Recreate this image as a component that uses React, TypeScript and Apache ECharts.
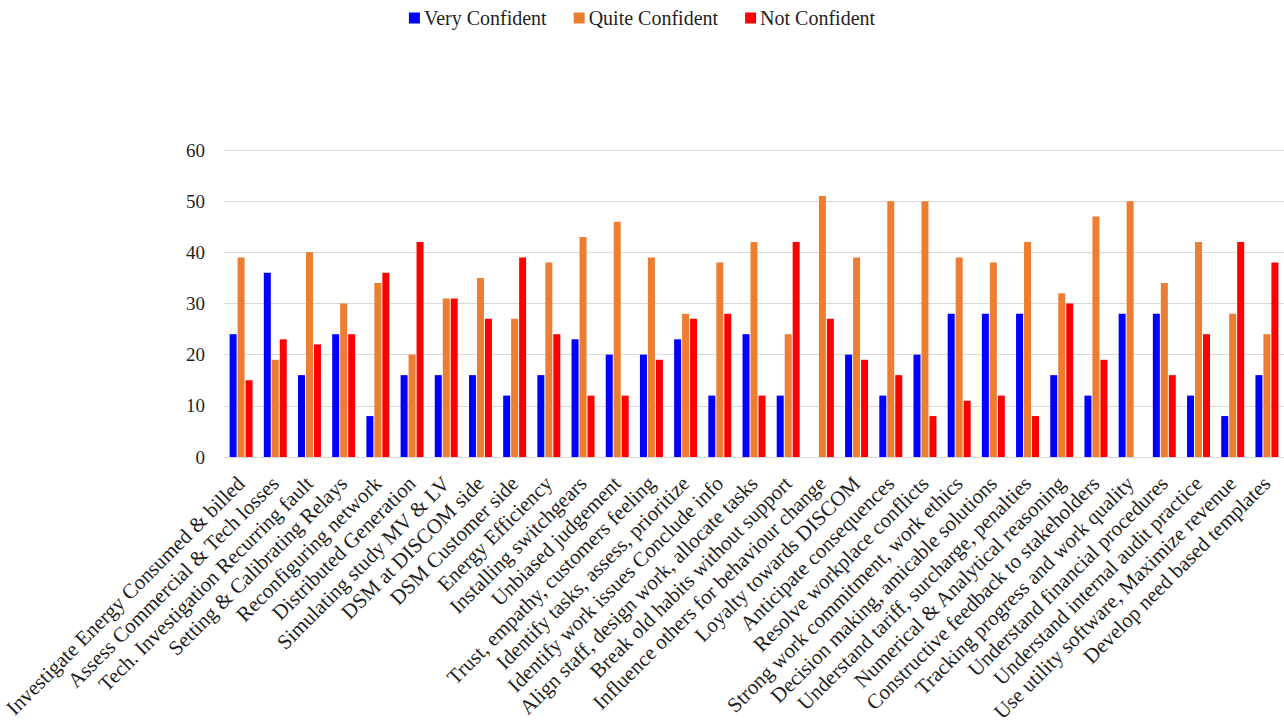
import React, { useEffect, useRef } from "react";
import * as echarts from "echarts";

const categories = [
  "Investigate Energy Consumed & billed",
  "Assess Commercial & Tech losses",
  "Tech. Investigation Recurring fault",
  "Setting & Calibrating Relays",
  "Reconfiguring network",
  "Distributed Generation",
  "Simulating study MV & LV",
  "DSM at DISCOM side",
  "DSM Customer side",
  "Energy Efficiency",
  "Installing switchgears",
  "Unbiased judgement",
  "Trust, empathy, customers feeling",
  "Identify tasks, assess, prioritize",
  "Identify work issues Conclude info",
  "Align staff, design work, allocate tasks",
  "Break old habits without support",
  "Influence others for behaviour change",
  "Loyalty towards DISCOM",
  "Anticipate consequences",
  "Resolve workplace conflicts",
  "Strong work commitment, work ethics",
  "Decision making, amicable solutions",
  "Understand tariff, surcharge, penalties",
  "Numerical & Analytical reasoning",
  "Constructive feedback to stakeholders",
  "Tracking progress and work quality",
  "Understand financial procedures",
  "Understand internal audit practice",
  "Use utility software, Maximize revenue",
  "Develop need based templates",
];

const veryConfident = [24, 36, 16, 24, 8, 16, 16, 16, 12, 16, 23, 20, 20, 23, 12, 24, 12, 0, 20, 12, 20, 28, 28, 28, 16, 12, 28, 28, 12, 8, 16];
const quiteConfident = [39, 19, 40, 30, 34, 20, 31, 35, 27, 38, 43, 46, 39, 28, 38, 42, 24, 51, 39, 50, 50, 39, 38, 42, 32, 47, 50, 34, 42, 28, 24];
const notConfident = [15, 23, 22, 24, 36, 42, 31, 27, 39, 24, 12, 12, 19, 27, 28, 12, 42, 27, 19, 16, 8, 11, 12, 8, 30, 19, 0, 16, 24, 42, 38];

const seriesNames = ["Very Confident", "Quite Confident", "Not Confident"];
const yTicks = { min: 0, max: 60, interval: 10 };

const FONT = "'Liberation Serif', 'Times New Roman', serif";

export default function App() {
  const ref = useRef<HTMLDivElement>(null);
  useEffect(() => {
    if (!ref.current) return;
    const chart = echarts.init(ref.current, undefined, { renderer: "svg" });
    const colors = ["#0000FF", "#ED7D31", "#FF0000"];
    const data = [veryConfident, quiteConfident, notConfident];
    chart.setOption({
      animation: false,
      backgroundColor: "#ffffff",
      textStyle: { fontFamily: FONT },
      legend: {
        top: 3,
        left: "center",
        itemWidth: 11,
        itemHeight: 11,
        itemGap: 27,
        icon: "rect",
        textStyle: { fontFamily: FONT, fontSize: 20, color: "#1f1f1f", padding: [0, 0, 0, -1] },
        data: seriesNames,
      },
      grid: { left: 224, right: -5, top: 150, bottom: 269, containLabel: false },
      xAxis: {
        type: "category",
        data: categories,
        axisLine: { show: true, lineStyle: { color: "#d9d9d9", width: 1 } },
        axisTick: { show: false },
        axisLabel: {
          rotate: 45,
          interval: 0,
          margin: 23,
          fontFamily: FONT,
          fontSize: 21,
          color: "#1f1f1f",
        },
      },
      yAxis: {
        type: "value",
        min: yTicks.min,
        max: yTicks.max,
        interval: yTicks.interval,
        axisLine: { show: false },
        axisTick: { show: false },
        splitLine: { lineStyle: { color: "#d9d9d9", width: 1 } },
        axisLabel: { fontFamily: FONT, fontSize: 19, color: "#1f1f1f", margin: 19 },
      },
      series: seriesNames.map((name, i) => ({
        name,
        type: "bar",
        data: data[i],
        barWidth: 7,
        barGap: "14%",
        itemStyle: { color: colors[i] },
      })),
    });
    return () => chart.dispose();
  }, []);
  return (
    <div
      ref={ref}
      style={{ position: "fixed", left: 0, top: 0, width: 1284, height: 726, background: "#fff" }}
    />
  );
}
